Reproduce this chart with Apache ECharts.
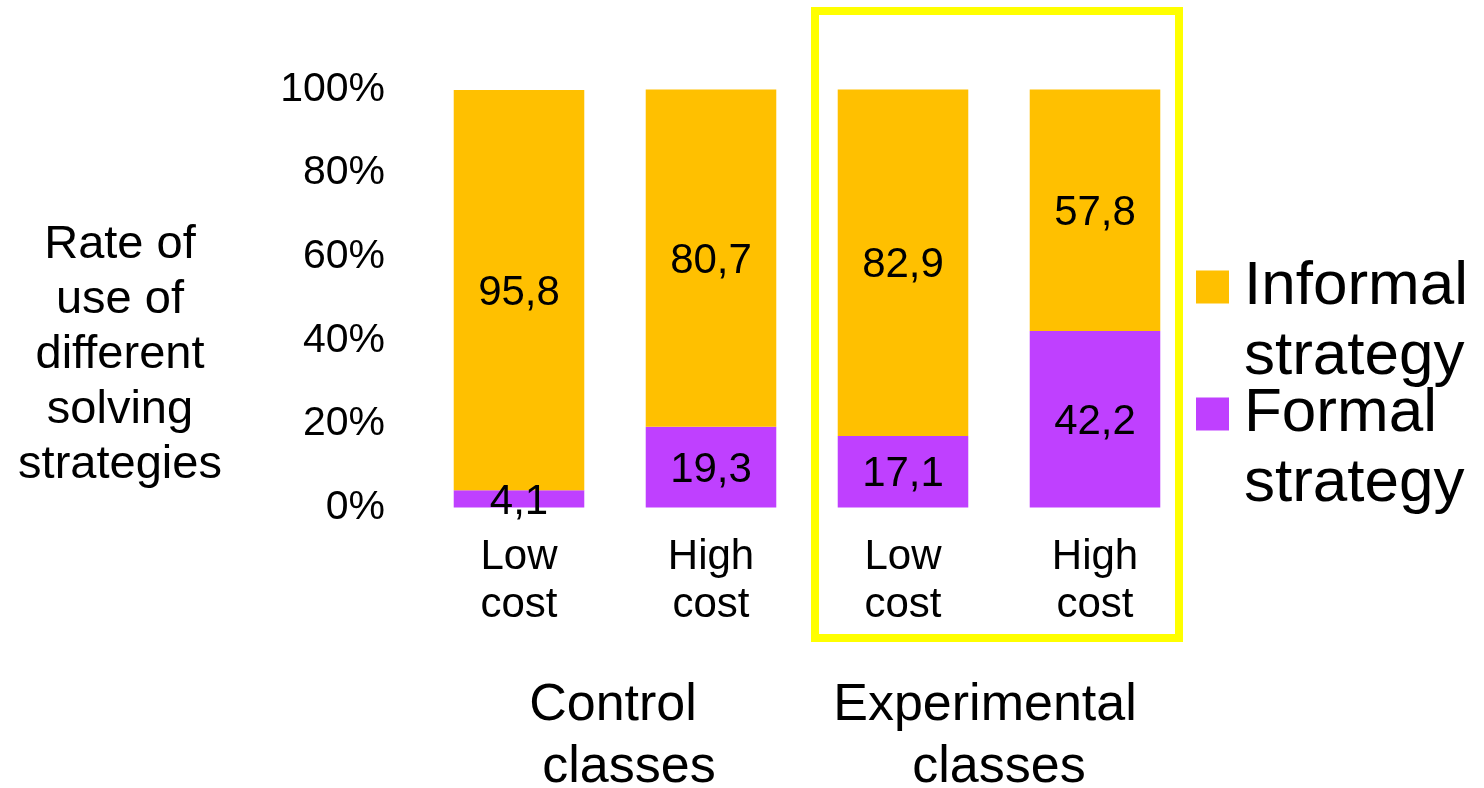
<!DOCTYPE html>
<html>
<head>
<meta charset="utf-8">
<title>Solving strategies by class and cost</title>
<script src="https://cdn.jsdelivr.net/npm/echarts@6/dist/echarts.min.js"></script>
<style>
  html, body { margin: 0; padding: 0; background: #ffffff; }
  #chart { width: 1484px; height: 788px; }
</style>
</head>
<body>
<div id="chart"></div>
<script>
// Categories along the x axis (two per class group)
const categories = ['Low\ncost', 'High\ncost', 'Low\ncost', 'High\ncost'];
// Share of each strategy, in percent
const informalValues = [95.8, 80.7, 82.9, 57.8];
const formalValues = [4.1, 19.3, 17.1, 42.2];
// Series and group names
const informalName = 'Informal\nstrategy';
const formalName = 'Formal\nstrategy';
const groupControl = ['Control', 'classes'];
const groupExperimental = ['Experimental', 'classes'];
const yAxisTitle = 'Rate of\nuse of\ndifferent\nsolving\nstrategies';

const COLOR_INFORMAL = '#FFC000';
const COLOR_FORMAL = '#BF40FF';
const FONT = '"Liberation Sans", Arial, sans-serif';

const chart = echarts.init(document.getElementById('chart'), null, { renderer: 'canvas' });

const commaDecimal = (p) => String(p.value).replace('.', ',');

const valueLabel = {
  show: true,
  position: 'inside',
  offset: [0, 3],
  formatter: commaDecimal,
  fontFamily: FONT,
  fontSize: 42,
  color: '#000'
};

const option = {
  backgroundColor: '#ffffff',
  animation: false,
  textStyle: { fontFamily: FONT, color: '#000' },
  grid: { left: 423, right: 293, top: 89.5, bottom: 280.5, containLabel: false },
  legend: {
    data: [informalName, formalName],
    // a blank leading line keeps the swatch level with the first word
    formatter: (name) => '\n' + name,
    orient: 'vertical',
    left: 1196,
    top: 182,
    padding: 0,
    itemGap: -83,
    itemWidth: 33,
    itemHeight: 33,
    icon: 'rect',
    selectedMode: false,
    textStyle: {
      fontFamily: FONT,
      fontSize: 62,
      lineHeight: 70,
      color: '#000',
      padding: [0, 0, 0, 10]
    }
  },
  xAxis: {
    type: 'category',
    data: categories,
    axisLine: { show: false },
    axisTick: { show: false },
    axisLabel: {
      fontFamily: FONT,
      fontSize: 42,
      lineHeight: 48,
      color: '#000',
      margin: 26,
      interval: 0
    }
  },
  yAxis: {
    type: 'value',
    min: 0,
    max: 100,
    interval: 20,
    axisLine: { show: false },
    axisTick: { show: false },
    splitLine: { show: false },
    axisLabel: {
      formatter: '{value}%',
      fontFamily: FONT,
      fontSize: 41,
      color: '#000',
      margin: 38
    }
  },
  series: [
    {
      name: formalName,
      type: 'bar',
      stack: 'share',
      data: formalValues,
      barCategoryGap: '32%',
      itemStyle: { color: COLOR_FORMAL },
      label: valueLabel
    },
    {
      name: informalName,
      type: 'bar',
      stack: 'share',
      data: informalValues,
      barCategoryGap: '32%',
      itemStyle: { color: COLOR_INFORMAL },
      label: valueLabel
    }
  ],
  graphic: [
    // highlight frame around the experimental group
    {
      type: 'rect',
      z: 10,
      shape: { x: 815, y: 11, width: 364, height: 627 },
      style: { fill: 'none', stroke: '#FFFF00', lineWidth: 8 }
    },
    // y axis title
    {
      type: 'text',
      x: 120,
      y: 355,
      style: {
        text: yAxisTitle,
        fontFamily: FONT,
        fontSize: 47,
        lineHeight: 55,
        fill: '#000',
        align: 'center',
        verticalAlign: 'middle'
      }
    },
    // group captions under the axis
    { type: 'text', x: 613, y: 706, style: { text: groupControl[0], fontFamily: FONT, fontSize: 52, fill: '#000', align: 'center', verticalAlign: 'middle' } },
    { type: 'text', x: 629, y: 768, style: { text: groupControl[1], fontFamily: FONT, fontSize: 52, fill: '#000', align: 'center', verticalAlign: 'middle' } },
    { type: 'text', x: 985, y: 706, style: { text: groupExperimental[0], fontFamily: FONT, fontSize: 52, fill: '#000', align: 'center', verticalAlign: 'middle' } },
    { type: 'text', x: 999, y: 768, style: { text: groupExperimental[1], fontFamily: FONT, fontSize: 52, fill: '#000', align: 'center', verticalAlign: 'middle' } }
  ]
};

chart.setOption(option);
</script>
</body>
</html>
